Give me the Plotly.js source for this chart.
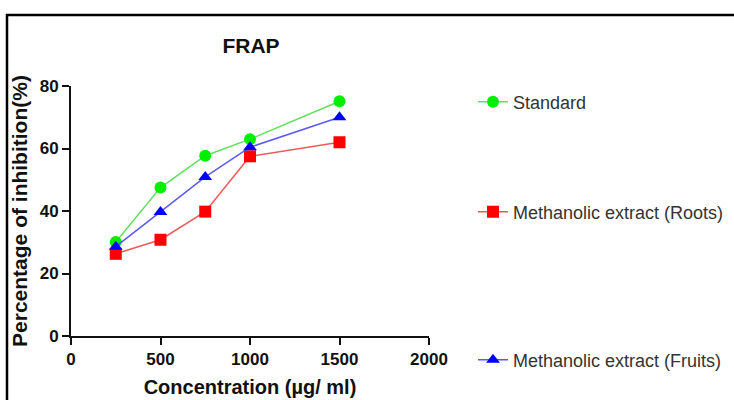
<!DOCTYPE html>
<html>
<head>
<meta charset="utf-8">
<script src="https://cdn.plot.ly/plotly-3.0.1.min.js"></script>
<style>html,body{margin:0;padding:0;background:#fff;}#chart{width:734px;height:400px;}</style>
</head>
<body>
<div id="chart"></div>
<script>
const concentrations = [250, 500, 750, 1000, 1500];
const standard = [30.1, 47.5, 57.7, 63.0, 75.1];
const rootsExtract = [26.3, 30.8, 39.8, 57.5, 62.0];
const fruitsExtract = [28.6, 39.7, 50.9, 60.4, 70.0];
const seriesNames = ["Standard", "Methanolic extract (Roots)", "Methanolic extract (Fruits)"];
const xTicks = [0, 500, 1000, 1500, 2000];
const yTicks = [0, 20, 40, 60, 80];

const FONT = 'Liberation Sans, Arial, sans-serif';

const traces = [
  {x: concentrations, y: standard, name: seriesNames[0], type: 'scatter', mode: 'lines+markers',
   line: {color: '#5fe05f', width: 1.5}, marker: {color: '#00ee00', symbol: 'circle', size: 12}, legend: 'legend'},
  {x: concentrations, y: rootsExtract, name: seriesNames[1], type: 'scatter', mode: 'lines+markers',
   line: {color: '#ee5a5a', width: 1.5}, marker: {color: '#ff0000', symbol: 'square', size: 12}, legend: 'legend2'},
  {x: concentrations, y: fruitsExtract, name: seriesNames[2], type: 'scatter', mode: 'lines+markers',
   line: {color: '#5a5aee', width: 1.5}, marker: {color: '#0000ff', symbol: 'triangle-up', size: 12}, legend: 'legend3'}
];

const legendBase = {bgcolor: 'rgba(0,0,0,0)', borderwidth: 0, xanchor: 'left', yanchor: 'middle',
  font: {family: FONT, size: 18, color: '#333'}, itemwidth: 30};

const layout = {
  width: 734, height: 400,
  margin: {l: 71, r: 305, t: 86, b: 64, autoexpand: false},
  paper_bgcolor: '#fff', plot_bgcolor: '#fff',
  showlegend: true,
  title: {text: '<b>FRAP</b>', x: 251/734, xanchor: 'center', y: 1 - 46/400, yanchor: 'middle', yref: 'container', xref: 'container',
    font: {family: FONT, size: 21, color: '#111'}},
  xaxis: {range: [0, 2000], tickvals: xTicks, ticktext: xTicks.map(v => '<b>' + v + '</b>'),
    showgrid: false, zeroline: false, showline: true, linecolor: '#111', linewidth: 2,
    ticks: 'outside', ticklen: 7, tickwidth: 2, tickcolor: '#111',
    tickfont: {family: FONT, size: 17, color: '#111'},
    title: {text: '<b>Concentration (µg/ ml)</b>', standoff: 12, font: {family: FONT, size: 20, color: '#111'}}},
  yaxis: {range: [0, 80], tickvals: yTicks, ticktext: yTicks.map(v => '<b>' + v + '</b>'),
    showgrid: false, zeroline: false, showline: true, linecolor: '#111', linewidth: 2,
    ticks: 'outside', ticklen: 7, tickwidth: 2, tickcolor: '#111',
    tickfont: {family: FONT, size: 17, color: '#111'},
    title: {text: '<b>Percentage of inhibition(%)</b>', standoff: 6, font: {family: FONT, size: 21, color: '#111'}}},
  legend: Object.assign({}, legendBase, {x: (473-71)/358, y: (336-102)/250}),
  legend2: Object.assign({}, legendBase, {x: (473-71)/358, y: (336-212)/250}),
  legend3: Object.assign({}, legendBase, {x: (473-71)/358, y: (336-360)/250}),
  shapes: [{type: 'rect', xref: 'paper', yref: 'paper', x0: (7-71)/358, x1: 2, y0: -1, y1: (336-15)/250,
    line: {color: '#000', width: 2.5}, fillcolor: 'rgba(0,0,0,0)', layer: 'below'}]
};

Plotly.newPlot('chart', traces, layout, {displayModeBar: false, staticPlot: true});
</script>
</body>
</html>
